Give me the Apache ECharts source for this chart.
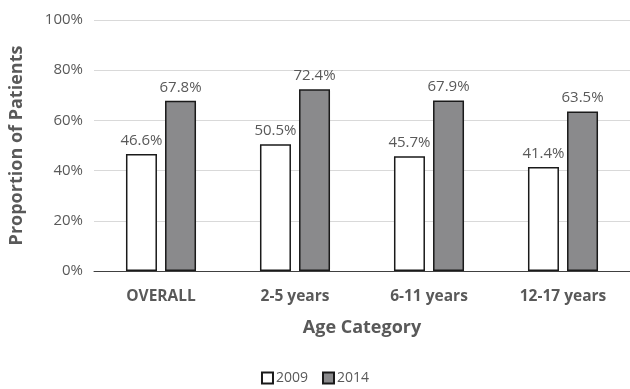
<!DOCTYPE html>
<html><head><meta charset="utf-8">
<script src="https://cdn.jsdelivr.net/npm/echarts@6/dist/echarts.min.js"></script>
<style>html,body{margin:0;padding:0;background:#fff}#c{width:630px;height:389px}</style>
</head><body><div id="c"></div>
<script>
const categories = ['OVERALL', '2-5 years', '6-11 years', '12-17 years'];
const values2009 = [46.6, 50.5, 45.7, 41.4];
const values2014 = [67.8, 72.4, 67.9, 63.5];
const seriesNames = ['2009', '2014'];
const yTicks = [0, 20, 40, 60, 80, 100];

const chart = echarts.init(document.getElementById('c'));
const font = 'Open Sans';
const lbl = {show: true, position: 'top', color: '#595959', fontFamily: font, fontSize: 15, distance: 6, formatter: p => p.value.toFixed(1) + '%'};
chart.setOption({
  animation: false,
  grid: {left: 90, width: 543, top: 20, bottom: 118},
  legend: {
    top: 366, left: 'center', itemWidth: 11, itemHeight: 11, itemGap: 14,
    icon: 'rect',
    textStyle: {color: '#595959', fontFamily: font, fontSize: 14, padding: [0,0,0,-2]},
    data: seriesNames
  },
  xAxis: {
    type: 'category', data: categories,
    name: 'Age Category', nameLocation: 'middle', nameGap: 48,
    nameTextStyle: {color: '#595959', fontFamily: font, fontSize: 18, fontWeight: 'bold'},
    axisTick: {show: false},
    axisLine: {lineStyle: {color: '#404040', width: 1}},
    axisLabel: {color: '#595959', fontFamily: font, fontSize: 15.5, fontWeight: 'bold', margin: 18}
  },
  yAxis: {
    type: 'value', min: 0, max: 100, interval: 20,
    name: 'Proportion of Patients', nameLocation: 'middle', nameGap: 68,
    nameTextStyle: {color: '#595959', fontFamily: font, fontSize: 18, fontWeight: 'bold'},
    axisLabel: {color: '#595959', fontFamily: font, fontSize: 15, margin: 11,
      formatter: v => yTicks.includes(v) ? v + '%' : ''},
    splitLine: {lineStyle: {color: '#d9d9d9', width: 1}},
    axisLine: {show: false}, axisTick: {show: false}
  },
  series: [
    {name: seriesNames[0], type: 'bar', data: values2009, barWidth: 31, barGap: '26%',
     itemStyle: {color: '#ffffff', borderColor: '#1a1a1a', borderWidth: 1.5}, label: lbl},
    {name: seriesNames[1], type: 'bar', data: values2014, barWidth: 31,
     itemStyle: {color: '#8a8a8c', borderColor: '#1a1a1a', borderWidth: 1.5}, label: lbl}
  ]
});
</script></body></html>
